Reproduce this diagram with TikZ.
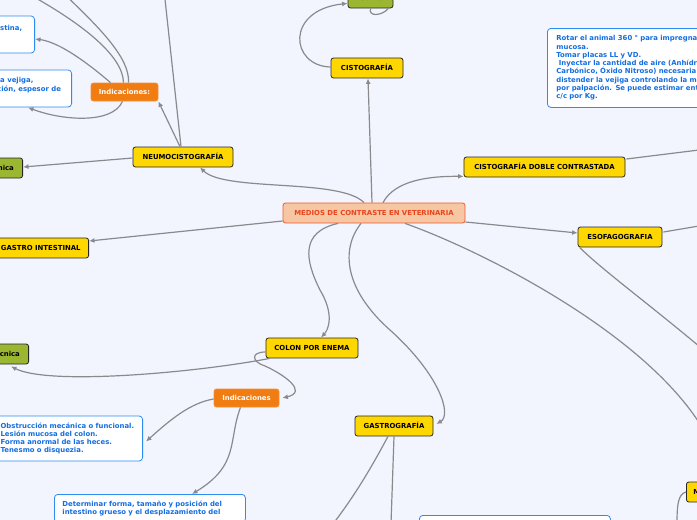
\documentclass[tikz,border=0pt]{standalone}
\usepackage{fontspec}
\setmainfont{DejaVu Sans}
\usetikzlibrary{arrows.meta,calc}
\definecolor{bgc}{RGB}{242,245,254}
\definecolor{ylw}{RGB}{255,215,0}
\definecolor{grn}{RGB}{155,182,48}
\definecolor{org}{RGB}{240,124,18}
\definecolor{orgb}{RGB}{245,145,50}
\definecolor{mainfill}{RGB}{247,198,163}
\definecolor{mainline}{RGB}{240,90,45}
\definecolor{maintext}{RGB}{232,70,30}
\definecolor{bluel}{RGB}{45,140,240}
\definecolor{bluet}{RGB}{20,110,225}
\definecolor{connc}{RGB}{138,138,142}
\newcommand{\fsz}{\fontsize{6.9}{8.2}\selectfont\bfseries}
\begin{document}
\begin{tikzpicture}[x=1pt,y=-1pt,
 base/.style={rounded corners=2.5pt, line width=0.8pt, font=\fsz, inner sep=0pt, minimum height=20pt, text height=5pt, text depth=0.3pt},
 ybox/.style={base, draw=black!85, fill=ylw},
 gbox/.style={base, draw=black!85, fill=grn},
 obox/.style={base, draw=orgb, fill=org, text=white, minimum height=18pt},
 mbox/.style={base, draw=mainline, fill=mainfill, text=maintext},
 tbox/.style={rounded corners=3.5pt, line width=0.8pt, draw=bluel, fill=white, text=bluet, font=\fsz, align=left},
 frag/.style={font=\fsz, text=bluet, inner sep=0pt, anchor=west},
 link/.style={draw=connc, line width=1.2pt},
 arr/.style={link, -{Latex[length=5.5pt,width=5pt]}},
]
\useasboundingbox (0,0) rectangle (697,520);
\fill[bgc] (0,0) rectangle (697,520);
\clip (0,0) rectangle (697,520);

% nodes
\node[mbox, minimum width=182pt] (main) at (374,213) {MEDIOS DE CONTRASTE EN VETERINARIA};
\node[ybox, minimum width=72pt] (cisto) at (367,68) {CISTOGRAFÍA};
\node[gbox, minimum width=45pt] (tecTop) at (370.5,-2) {Técnica};
\node[ybox, minimum width=100pt] (neumo) at (183,157) {NEUMOCISTOGRAFÍA};
\node[gbox, minimum width=46pt, anchor=east] (tecL1) at (23,168) {Técnica};
\node[obox, minimum width=67pt] (ind1) at (124.5,92) {Indicaciones:};
\node[tbox, minimum width=120pt, minimum height=37pt, anchor=east] (box1) at (35,34.5) {};
\node[frag] (f1) at (0,28) {stina,};
\node[tbox, minimum width=150pt, minimum height=37pt, anchor=east] (box2) at (72,88.5) {};
\node[frag] (f2) at (0,80.5) {a vejiga,};
\node[frag] (f3) at (-3,89) {ción, espesor de};
\node[ybox, text width=120pt, align=right, inner xsep=8pt, anchor=east] (GI) at (89,248) {GASTRO INTESTINAL};
\node[ybox, minimum width=161pt] (cdc) at (544.5,167) {CISTOGRAFÍA DOBLE CONTRASTADA};
\node[ybox, minimum width=84pt] (eso) at (620,237) {ESOFAGOGRAFIA};
\node[tbox, anchor=north west, text width=175pt, minimum height=79pt, inner xsep=9pt, inner ysep=0pt, font=\fontsize{6.9}{8.3}\selectfont\bfseries] (rbox) at (547,28)
 {Rotar el animal 360 ° para impregna\\mucosa.\\Tomar placas LL y VD.\\\hspace*{2.5pt}Inyectar la cantidad de aire (Anhídr\\Carbónico, Óxido Nitroso) necesaria\\distender la vejiga controlando la m\\por palpación. Se puede estimar ent\\c/c por Kg.};
\node[ybox, minimum width=92pt] (colon) at (312,348) {COLON POR ENEMA};
\node[gbox, minimum width=46pt, anchor=east] (tecL2) at (29,354) {Técnica};
\node[obox, minimum width=65pt] (ind2) at (246.5,398) {Indicaciones};
\node[tbox, anchor=east, text width=135pt, minimum height=45pt, inner xsep=7pt, inner ysep=0pt, font=\fontsize{6.9}{8}\selectfont\bfseries] (lbox) at (143,438.5)
 {Obstrucción mecánica o funcional.\\Lesión mucosa del colon.\\Forma anormal de las heces.\\Tenesmo o disquezia.};
\node[tbox, anchor=north west, text width=175pt, inner xsep=8pt, inner ysep=6.5pt, font=\fontsize{6.9}{8}\selectfont\bfseries] (bbox) at (54,494)
 {Determinar forma, tamaño y posición del\\intestino grueso y el desplazamiento del};
\node[ybox, minimum width=78pt] (gastro) at (394,426) {GASTROGRAFÍA};
\node[tbox, anchor=north west, minimum width=191pt, minimum height=30pt] (bbox2) at (419,515) {};
\node[ybox, anchor=west, text width=40pt, align=left, inner xsep=7pt] (mnode) at (686,492) {M};

% free ends
\coordinate (up1) at (164,-10);
\coordinate (up2) at (25,-8);
\coordinate (up3) at (60,-10);
\coordinate (r1) at (699,150);
\coordinate (r2) at (699,226);
\coordinate (r3) at (700,347);
\coordinate (r4) at (700,424);
\coordinate (b1) at (333,524);
\coordinate (b2) at (391,524);
\coordinate (b3) at (677,524);

% connectors
\draw[arr] ($(main.north)+(-2,0)$) -- ($(cisto.south)+(1,0)$);
\draw[arr] ($(cisto.west)+(0,-1)$) .. controls (290,66) and (285,10) .. ($(tecTop.south west)+(0,-5)$);
\draw[link] ($(tecTop.south)+(18,0)$) .. controls (382,16) and (368,17) .. (tecTop.south);
\draw[arr] ($(main.north)+(-10,0)$) .. controls (340,178) and (225,192) .. ($(neumo.south)+(17,0)$);
\draw[arr] ($(neumo.west)+(0,1)$) -- ($(tecL1.east)+(0,-1)$);
\draw[arr] ($(neumo.north)+(-3,0)$) -- (ind1.south east);
\draw[link] ($(neumo.north)+(-2,0)$) -- (up1);
\draw[arr] ($(ind1.north)+(-14,0)$) .. controls (90,65) and (60,42) .. ($(box1.east)+(0,4.5)$);
\draw[arr] ($(ind1.south)+(-2,0)$) .. controls (112,125) and (60,120) .. ($(box2.south east)+(-44,0)$);
\draw[link] ($(ind1.north)+(-1,0)$) .. controls (123,55) and (80,22) .. (up2);
\draw[link] ($(ind1.north)+(4,0)$) .. controls (130,58) and (100,28) .. (up3);
\draw[arr] ($(main.west)+(0,8)$) -- ($(GI.east)+(0,-7)$);
\draw[arr] ($(main.north)+(9,0)$) .. controls (395,180) and (430,176) .. ($(cdc.south west)+(0,-1)$);
\draw[link] ($(cdc.east)+(1,-8)$) -- (r1);
\draw[arr] ($(main.east)+(0,9)$) -- ($(eso.west)+(0,-4)$);
\draw[link] ($(eso.east)+(1,-5)$) -- (r2);
\draw[link] ($(eso.south west)+(2,0)$) .. controls (600,268) and (650,305) .. (r3);
\draw[link] ($(main.south)+(31,0)$) .. controls (480,250) and (640,330) .. (r4);
\draw[arr] ($(main.south)+(-36,0)$) .. controls (300,232) and (305,260) .. (320,290) .. controls (335,315) and (328,330) .. ($(colon.north)+(9,0)$);
\draw[arr] ($(main.south)+(-13,0)$) .. controls (340,250) and (345,290) .. (390,330) .. controls (440,375) and (452,415) .. ($(gastro.east)+(3,-2)$);
\draw[arr] ($(colon.south west)+(4,0)$) .. controls (200,372) and (50,386) .. ($(tecL2.south east)+(-18,2)$);
\draw[arr] ($(colon.west)+(0,4)$) .. controls (250,352) and (252,362) .. (265,366) .. controls (285,375) and (308,392) .. ($(ind2.east)+(3,0)$);
\draw[arr] ($(ind2.west)+(0,1)$) .. controls (190,403) and (170,420) .. ($(lbox.east)+(3,3)$);
\draw[arr] ($(ind2.south)+(-6,0)$) .. controls (228,440) and (240,465) .. ($(bbox.north west)+(138,0)$);
\draw[link] ($(gastro.south)+(-6,0)$) .. controls (370,470) and (355,495) .. (b1);
\draw[link] (gastro.south) -- (b2);
\draw[link] (mnode.west) .. controls (678,494) and (677,505) .. (b3);
\end{tikzpicture}
\end{document}
